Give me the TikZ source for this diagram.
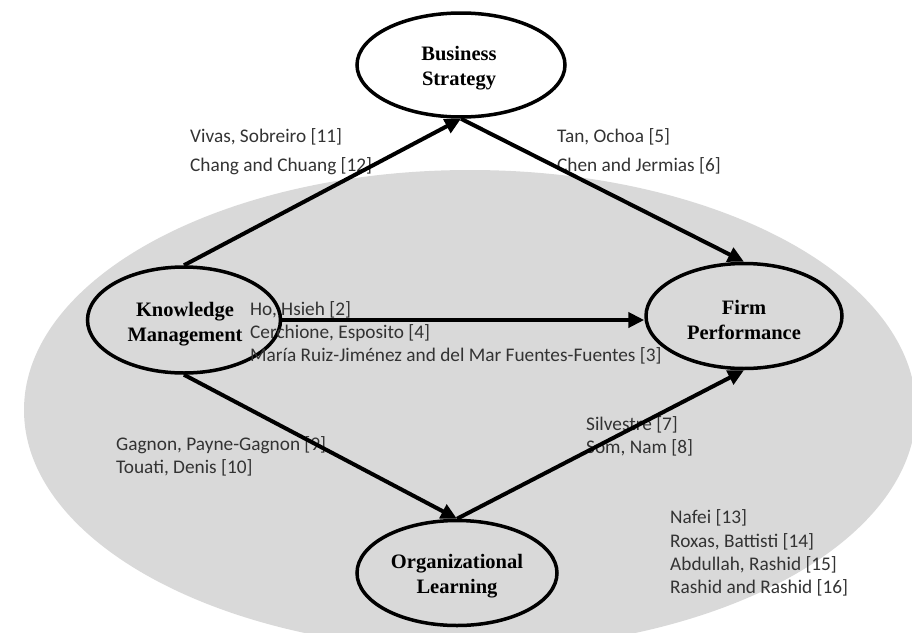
\documentclass[tikz,border=0pt]{standalone}
\usepackage{fontspec}
\setmainfont{Liberation Serif}
\newfontfamily\citefont{Carlito}
\usetikzlibrary{shapes.geometric,arrows.meta}
\definecolor{bggray}{HTML}{D9D9D9}
\definecolor{citetext}{HTML}{333333}
\begin{document}
\begin{tikzpicture}[x=1pt,y=-1pt,
  concept/.style={ellipse,draw=black,line width=3.5pt,inner sep=0pt},
  conceptname/.style={inner sep=0pt,align=center,
    font=\fontsize{20.5}{24.5}\selectfont\bfseries},
  link/.style={line width=4pt,-{Triangle[length=16pt,width=15pt]}},
  cite/.style={anchor=west,inner sep=0pt,text=citetext,
    font=\citefont\fontsize{19.3}{24}\selectfont}]
\useasboundingbox (0,0) rectangle (912,637);
% shaded region behind the model, flat along the lower edge
\begin{scope}
  \clip (0,0) rectangle (912,632);
  \fill[bggray] (470,410) ellipse [x radius=446pt, y radius=240pt];
\end{scope}

% constructs
\node[concept,minimum width=208pt,minimum height=104pt] (bs) at (461,65) {};
\node[concept,minimum width=193pt,minimum height=106pt] (km) at (184,320) {};
\node[concept,minimum width=196pt,minimum height=105pt] (fp) at (744,316) {};
\node[concept,minimum width=200pt,minimum height=105pt] (ol) at (457,573) {};
\node[conceptname] (bst) at (459,68) {Business\\Strategy};
\node[conceptname] (kmt) at (185,324) {Knowledge\\Management};
\node[conceptname] (fpt) at (744,320) {Firm\\Performance};
\node[conceptname] (olt) at (457,576) {Organizational\\Learning};

% supporting references
\node[cite] (r11) at (190,137) {Vivas, Sobreiro [11]};
\node[cite] (r12) at (190,166) {Chang and Chuang [12]};
\node[cite] (r5) at (557,137) {Tan, Ochoa [5]};
\node[cite] (r6) at (557,166) {Chen and Jermias [6]};
\node[cite] (r2) at (250,310) {Ho, Hsieh [2]};
\node[cite] (r4) at (250,333) {Cerchione, Esposito [4]};
\node[cite] (r3) at (250,356) {María Ruiz-Jiménez and del Mar Fuentes-Fuentes [3]};
\node[cite] (r9) at (116,445) {Gagnon, Payne-Gagnon [9]};
\node[cite] (r10) at (116,468) {Touati, Denis [10]};
\node[cite] (r7) at (586,425) {Silvestre [7]};
\node[cite] (r8) at (586,448) {Som, Nam [8]};
\node[cite] (r13) at (670,518) {Nafei [13]};
\node[cite] (r14) at (670,542) {Roxas, Battisti [14]};
\node[cite] (r15) at (670,565) {Abdullah, Rashid [15]};
\node[cite] (r16) at (670,588) {Rashid and Rashid [16]};

% relationships
\draw[link] (km.north) -- (bs.south);
\draw[link] (bs.south) -- (fp.north);
\draw[link] (km.east) -- (km.east -| fp.west);
\draw[link] (km.south) -- (ol.north);
\draw[link] (ol.north) -- (fp.south);
\end{tikzpicture}
\end{document}
